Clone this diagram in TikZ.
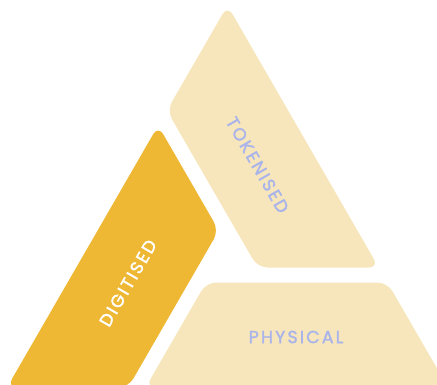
\documentclass[tikz,border=0pt]{standalone}
\usepackage{fontspec}
\newfontfamily\labfont{Poppins}[LetterSpace=12, FakeBold=1.6]
\definecolor{pbeige}{HTML}{F7E6BC}
\definecolor{pgold}{HTML}{EEB834}
\definecolor{plav}{HTML}{A9B4EA}
\begin{document}
\begin{tikzpicture}[x=1pt,y=-1pt,
  piece/.style={rounded corners=10pt},
  lab/.style={font=\labfont\fontsize{17.5}{20}\selectfont, inner sep=0pt, text=plav}]
\useasboundingbox (0,0) rectangle (437,384);
\clip (0,0) rectangle (437,384);
% TOKENISED strip
\fill[piece, pbeige] (227.5,5.5) -- (378.8,267.5) -- (257.6,267.5) -- (166.9,110.5) -- cycle;
% DIGITISED strip
\fill[piece, pgold] (158.2,125.5) -- (218.8,230.5) -- (128.2,387.5) -- (7.0,387.5) -- cycle;
% PHYSICAL strip
\fill[piece, pbeige] (206.2,282.5) -- (387.4,282.5) -- (448.1,387.5) -- (145.6,387.5) -- cycle;
\node[lab, rotate=-60] (tok) at (257.5,165) {TOKENISED};
\node[lab, rotate=60, text=white] (dig) at (128,283) {DIGITISED};
\node[lab] (phy) at (296,337) {PHYSICAL};
\end{tikzpicture}
\end{document}
